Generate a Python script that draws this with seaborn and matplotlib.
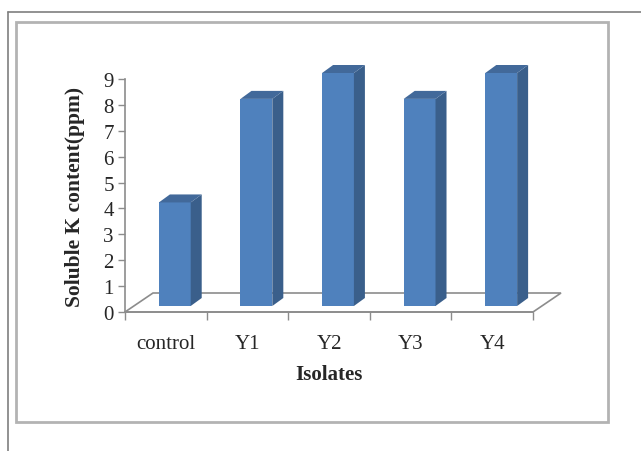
import numpy as np
import pandas as pd
import seaborn as sns
import matplotlib.pyplot as plt
from matplotlib.patches import Polygon, Rectangle
from matplotlib.lines import Line2D
from matplotlib.ticker import FixedLocator

# data
isolates = ['control', 'Y1', 'Y2', 'Y3', 'Y4']
soluble_k = [4, 8, 9, 8, 9]

FRONT = '#4F81BD'
SIDE = '#3A5F8B'
TOP = '#42699A'
GRID = '#8C8C8C'


def main():
    sns.set_style('white')
    plt.rcParams['font.family'] = ['Liberation Serif', 'DejaVu Serif']

    W, H = 641, 452
    fig = plt.figure(figsize=(W / 100, H / 100), dpi=100)

    # page frame and chart box
    fig.add_artist(Line2D([8 / W, 8 / W], [0, 1 - 13 / H], color='#7F7F7F', lw=1.2))
    fig.add_artist(Line2D([8 / W, 1], [1 - 13 / H, 1 - 13 / H], color='#7F7F7F', lw=1.2))
    fig.add_artist(Rectangle((16 / W, 1 - 423 / H), 592 / W, 400 / H, fill=False,
                             edgecolor='#B3B3B3', lw=2))

    ax = fig.add_axes([125 / W, 1 - 313 / H, 408 / W, 233 / H])
    df = pd.DataFrame({'isolate': isolates, 'k': soluble_k})
    sns.barplot(data=df, x='isolate', y='k', color=FRONT, saturation=1,
                width=0.39, linewidth=0, ax=ax, zorder=3)

    ax.set_xlim(-0.5, 4.5)
    ax.set_ylim(0, 9)

    # pseudo-3D depth, in data units (px / px-per-unit)
    ux = 408 / 5
    uy = 233 / 9
    fdx, fdy = 28 / ux, 19 / uy      # floor depth
    ox, oy = 9 / ux, 6 / uy          # bar front offset into the floor
    bdx, bdy = 11 / ux, 8 / uy       # bar depth

    floor = Polygon([(-0.5, 0), (4.5, 0), (4.5 + fdx, fdy), (-0.5 + fdx, fdy)],
                    closed=True, facecolor='white', edgecolor=GRID, lw=1.2,
                    clip_on=False, zorder=1)
    ax.add_patch(floor)

    for p in ax.patches[:len(isolates)]:
        x0 = p.get_x() + ox
        w = p.get_width()
        h = p.get_height()
        p.set_x(x0)
        p.set_y(oy)
        p.set_clip_on(False)
        x1 = x0 + w
        top = oy + h
        side = Polygon([(x1, oy), (x1 + bdx, oy + bdy), (x1 + bdx, top + bdy), (x1, top)],
                       closed=True, facecolor=SIDE, edgecolor='none',
                       clip_on=False, zorder=3)
        cap = Polygon([(x0, top), (x1, top), (x1 + bdx, top + bdy), (x0 + bdx, top + bdy)],
                      closed=True, facecolor=TOP, edgecolor='none',
                      clip_on=False, zorder=3)
        ax.add_patch(side)
        ax.add_patch(cap)

    # axes styling
    for s in ['top', 'right']:
        ax.spines[s].set_visible(False)
    for s in ['left', 'bottom']:
        ax.spines[s].set_color(GRID)
        ax.spines[s].set_linewidth(1.2)

    ax.set_yticks(range(0, 10))
    ax.tick_params(axis='y', direction='out', length=5, width=1, color=GRID,
                   labelsize=15, pad=3, left=True)
    ax.xaxis.set_minor_locator(FixedLocator(np.arange(-0.5, 5, 1)))
    ax.tick_params(axis='x', which='minor', direction='out', length=6, width=1,
                   color=GRID, bottom=True)
    ax.tick_params(axis='x', which='major', length=0, labelsize=15, pad=16)

    ax.set_xlabel('Isolates', fontsize=15, fontweight='bold')
    ax.xaxis.set_label_coords(0.5, -0.225)
    ax.set_ylabel('Soluble K content(ppm)', fontsize=15.5, fontweight='bold')
    ax.yaxis.set_label_coords(-0.098, 0.5)

    fig.savefig('out.png', dpi=100)


if __name__ == '__main__':
    main()
